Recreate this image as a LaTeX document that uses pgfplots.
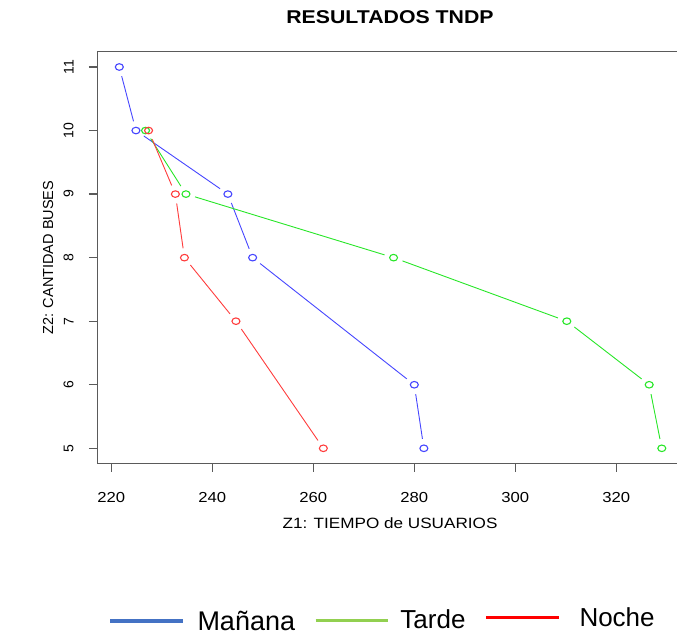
\documentclass[border=0pt]{standalone}
\usepackage{fontspec}
\setmainfont{Liberation Sans}
\usepackage{pgfplots}
\usepackage{pgfplotstable}
\pgfplotsset{compat=1.18}
\definecolor{rblue}{RGB}{70,70,255}
\definecolor{rgreen}{RGB}{40,230,40}
\definecolor{rred}{RGB}{255,60,60}
\definecolor{lblue}{RGB}{68,114,196}
\definecolor{lgreen}{RGB}{146,208,80}
\definecolor{lred}{RGB}{255,0,0}
\definecolor{axgray}{RGB}{90,90,90}
\pgfplotstableread{
x y
221.6 11
224.9 10
243.1 9
248.0 8
280.0 6
281.9 5
}\manana
\pgfplotstableread{
x y
226.8 10
234.8 9
275.9 8
310.2 7
326.5 6
329.0 5
}\tarde
\pgfplotstableread{
x y
227.4 10
232.7 9
234.5 8
244.7 7
262.0 5
}\noche
\begin{document}
\begin{tikzpicture}
\useasboundingbox (0pt,0pt) rectangle (677pt,635pt);
\begin{axis}[
  at={(97.3pt,171.7pt)}, anchor=south west,
  width=585.7pt, height=411.3pt, scale only axis,
  xmin=217.25, xmax=333.2, ymin=4.764, ymax=11.236,
  xtick={220,240,260,280,300,320}, ytick={5,6,7,8,9,10,11},
  tick align=outside, tick pos=left,
  major tick length=8.5pt,
  axis line style={axgray, line width=1pt},
  major tick style={axgray, line width=1.3pt},
  /pgf/number format/assume math mode=true,
  xticklabel style={font=\fontsize{14.5}{16}\selectfont, anchor=north, inner sep=0pt, yshift=-20.7pt, xscale=1.15},
  yticklabel style={font=\fontsize{14}{16}\selectfont, xshift=-15pt, rotate=90, anchor=south, inner sep=0pt},
  clip=false,
]
% Manana
\addplot[rblue, line width=0.9pt, shorten <=9.5pt, shorten >=9.5pt] coordinates {(221.6,11) (224.9,10)};
\addplot[rblue, line width=0.9pt, shorten <=9.5pt, shorten >=9.5pt] coordinates {(224.9,10) (243.1,9)};
\addplot[rblue, line width=0.9pt, shorten <=9.5pt, shorten >=9.5pt] coordinates {(243.1,9) (248.0,8)};
\addplot[rblue, line width=0.9pt, shorten <=9.5pt, shorten >=9.5pt] coordinates {(248.0,8) (280.0,6)};
\addplot[rblue, line width=0.9pt, shorten <=9.5pt, shorten >=9.5pt] coordinates {(280.0,6) (281.9,5)};
\addplot[only marks, mark=o, mark size=4pt, rblue, mark options={yscale=0.82, line width=1.1pt}] table[x=x,y=y] {\manana};
% Tarde
\addplot[rgreen, line width=0.9pt, shorten <=9.5pt, shorten >=9.5pt] coordinates {(226.8,10) (234.8,9)};
\addplot[rgreen, line width=0.9pt, shorten <=9.5pt, shorten >=9.5pt] coordinates {(234.8,9) (275.9,8)};
\addplot[rgreen, line width=0.9pt, shorten <=9.5pt, shorten >=9.5pt] coordinates {(275.9,8) (310.2,7)};
\addplot[rgreen, line width=0.9pt, shorten <=9.5pt, shorten >=9.5pt] coordinates {(310.2,7) (326.5,6)};
\addplot[rgreen, line width=0.9pt, shorten <=9.5pt, shorten >=9.5pt] coordinates {(326.5,6) (329.0,5)};
\addplot[only marks, mark=o, mark size=4pt, rgreen, mark options={yscale=0.82, line width=1.1pt}] table[x=x,y=y] {\tarde};
% Noche
\addplot[rred, line width=0.9pt, shorten <=9.5pt, shorten >=9.5pt] coordinates {(227.4,10) (232.7,9)};
\addplot[rred, line width=0.9pt, shorten <=9.5pt, shorten >=9.5pt] coordinates {(232.7,9) (234.5,8)};
\addplot[rred, line width=0.9pt, shorten <=9.5pt, shorten >=9.5pt] coordinates {(234.5,8) (244.7,7)};
\addplot[rred, line width=0.9pt, shorten <=9.5pt, shorten >=9.5pt] coordinates {(244.7,7) (262.0,5)};
\addplot[only marks, mark=o, mark size=4pt, rred, mark options={yscale=0.82, line width=1.1pt}] table[x=x,y=y] {\noche};
\end{axis}
% tick marks (axis decoration)
\draw[axgray, line width=1.3pt]
  (111.2pt,171.7pt) -- (111.2pt,163.2pt)
  (212.2pt,171.7pt) -- (212.2pt,163.2pt)
  (313.2pt,171.7pt) -- (313.2pt,163.2pt)
  (414.3pt,171.7pt) -- (414.3pt,163.2pt)
  (515.3pt,171.7pt) -- (515.3pt,163.2pt)
  (616.3pt,171.7pt) -- (616.3pt,163.2pt)
  (97.3pt,186.7pt) -- (88.8pt,186.7pt)
  (97.3pt,250.25pt) -- (88.8pt,250.25pt)
  (97.3pt,313.8pt) -- (88.8pt,313.8pt)
  (97.3pt,377.35pt) -- (88.8pt,377.35pt)
  (97.3pt,440.9pt) -- (88.8pt,440.9pt)
  (97.3pt,504.45pt) -- (88.8pt,504.45pt)
  (97.3pt,568.0pt) -- (88.8pt,568.0pt);
\node[anchor=base, font=\bfseries\fontsize{18.5}{21}\selectfont, xscale=1.15] at (390pt,611pt) {RESULTADOS TNDP};
\node[anchor=base, font=\fontsize{14.9}{17}\selectfont, xscale=1.15] at (390pt,106.7pt) {Z1: TIEMPO de USUARIOS};
\node[anchor=base, rotate=90, font=\fontsize{14.5}{16}\selectfont] at (53pt,377.4pt) {Z2: CANTIDAD BUSES};
% legend
\draw[lblue, line width=3.5pt] (110pt,14pt) -- (182.7pt,14pt);
\node[anchor=base west, inner sep=0pt, font=\fontsize{27}{30}\selectfont] at (197.3pt,4.3pt) {Mañana};
\draw[lgreen, line width=3.5pt] (315.7pt,14.3pt) -- (388.1pt,14.3pt);
\node[anchor=base west, inner sep=0pt, font=\fontsize{26}{30}\selectfont] at (400.2pt,6.6pt) {Tarde};
\draw[lred, line width=3.5pt] (486pt,17.7pt) -- (558.5pt,17.7pt);
\node[anchor=base west, inner sep=0pt, font=\fontsize{26}{30}\selectfont] at (579.3pt,9pt) {Noche};
\end{tikzpicture}
\end{document}
